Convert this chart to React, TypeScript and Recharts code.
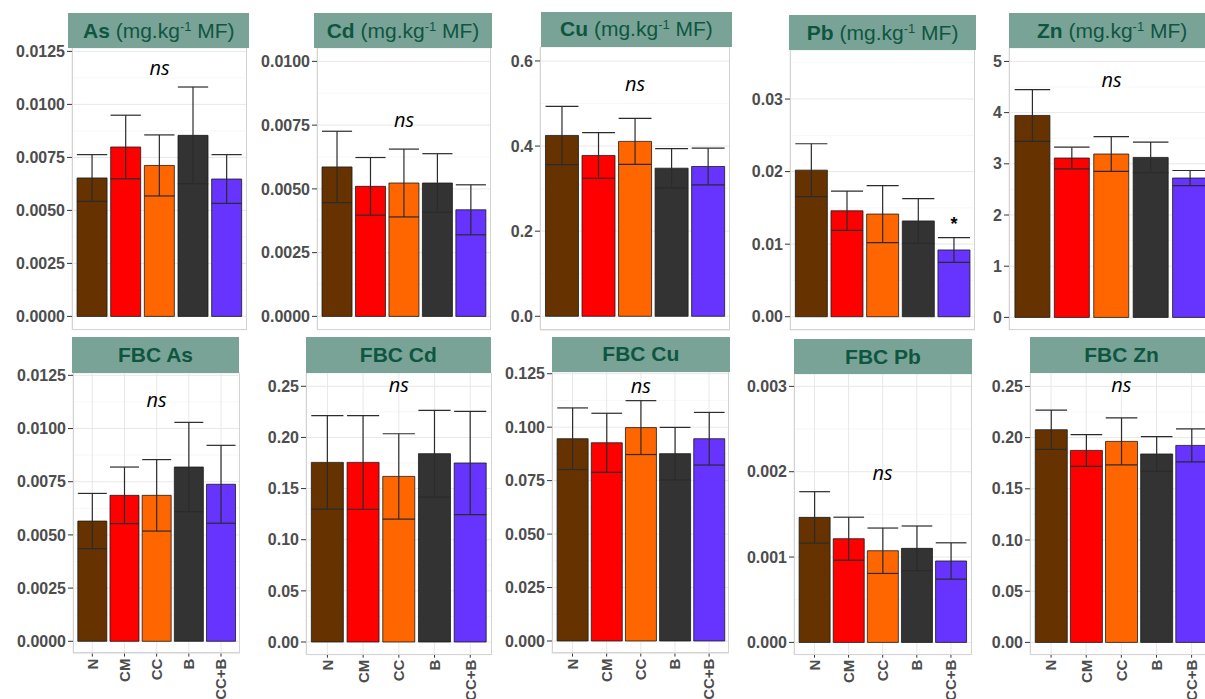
import React from 'react';
import { BarChart, Bar, XAxis, YAxis, CartesianGrid, ErrorBar, Cell, ReferenceDot } from 'recharts';

// ---------- data ----------
const categories = ['N', 'CM', 'CC', 'B', 'CC+B'];
const barColors = ['#663300', '#ff0000', '#ff6600', '#333333', '#6633ff'];

const asMean = [0.00653, 0.00799, 0.00712, 0.00854, 0.00648];
const asSe = [0.0011, 0.0015, 0.00144, 0.00228, 0.00115];
const cdMean = [0.00586, 0.0051, 0.00523, 0.00523, 0.00418];
const cdSe = [0.0014, 0.00113, 0.00133, 0.00115, 0.00098];
const cuMean = [0.425, 0.378, 0.411, 0.348, 0.352];
const cuSe = [0.0685, 0.0536, 0.054, 0.0462, 0.043];
const pbMean = [0.0202, 0.0146, 0.01415, 0.0132, 0.0092];
const pbSe = [0.00364, 0.00271, 0.00393, 0.00308, 0.0017];
const znMean = [3.945, 3.113, 3.191, 3.125, 2.722];
const znSe = [0.505, 0.211, 0.339, 0.299, 0.147];

const fbcAsMean = [0.00565, 0.00686, 0.00686, 0.00819, 0.00738];
const fbcAsSe = [0.0013, 0.00133, 0.00168, 0.0021, 0.00183];
const fbcCdMean = [0.1756, 0.1756, 0.1619, 0.1841, 0.175];
const fbcCdSe = [0.0457, 0.0458, 0.0417, 0.0424, 0.0505];
const fbcCuMean = [0.0946, 0.0927, 0.0998, 0.0876, 0.0946];
const fbcCuSe = [0.0144, 0.0138, 0.0126, 0.0123, 0.0123];
const fbcPbMean = [0.001465, 0.001215, 0.001074, 0.001102, 0.000954];
const fbcPbSe = [0.000301, 0.000252, 0.000266, 0.000262, 0.000213];
const fbcZnMean = [0.2077, 0.1875, 0.1963, 0.184, 0.1924];
const fbcZnSe = [0.0192, 0.0155, 0.023, 0.0169, 0.0161];

// tick values
const ticksAs = [0, 0.0025, 0.005, 0.0075, 0.01, 0.0125];
const ticksCd = [0, 0.0025, 0.005, 0.0075, 0.01];
const ticksCu = [0, 0.2, 0.4, 0.6];
const ticksPb = [0, 0.01, 0.02, 0.03];
const ticksZn = [0, 1, 2, 3, 4, 5];
const ticksFbcAs = [0, 0.0025, 0.005, 0.0075, 0.01, 0.0125];
const ticksFbcCd = [0, 0.05, 0.1, 0.15, 0.2, 0.25];
const ticksFbcCu = [0, 0.025, 0.05, 0.075, 0.1, 0.125];
const ticksFbcPb = [0, 0.001, 0.002, 0.003];
const ticksFbcZn = [0, 0.05, 0.1, 0.15, 0.2, 0.25];

// ---------- layout / panel config ----------
const YW = 70;
const MT = 14;
const FONT = '"Liberation Sans", Arial, sans-serif';

type Box = { l: number; t: number; r: number; b: number };
type PanelCfg = {
  bold: string;
  unit: boolean;
  mean: number[];
  se: number[];
  ticks: number[];
  dec: number;
  domain: [number, number];
  box: Box;
  strip: Box;
  note?: { text: string; cat: string; y: number; star?: boolean };
  xLabels: boolean;
};

const panels: PanelCfg[] = [
  { bold: 'As', unit: true, mean: asMean, se: asSe, ticks: ticksAs, dec: 4, domain: [-0.000627, 0.01266],
    box: { l: 71.7, t: 48.3, r: 246.7, b: 330 }, strip: { l: 68.3, t: 13.3, r: 249.3, b: 48.3 },
    note: { text: 'ns', cat: 'CC', y: 0.01164 }, xLabels: false },
  { bold: 'Cd', unit: true, mean: cdMean, se: cdSe, ticks: ticksCd, dec: 4, domain: [-0.000522, 0.010525],
    box: { l: 316.7, t: 48.3, r: 490.7, b: 330 }, strip: { l: 314.3, t: 13.3, r: 491.7, b: 48.3 },
    note: { text: 'ns', cat: 'CC', y: 0.00765 }, xLabels: false },
  { bold: 'Cu', unit: true, mean: cuMean, se: cuSe, ticks: ticksCu, dec: 1, domain: [-0.0329, 0.6328],
    box: { l: 540, t: 46.7, r: 730, b: 330 }, strip: { l: 540.7, t: 11.7, r: 732.3, b: 46.7 },
    note: { text: 'ns', cat: 'CC', y: 0.5428 }, xLabels: false },
  { bold: 'Pb', unit: true, mean: pbMean, se: pbSe, ticks: ticksPb, dec: 2, domain: [-0.00183, 0.03676],
    box: { l: 789.6, t: 50, r: 975, b: 330 }, strip: { l: 789.3, t: 15, r: 976, b: 50 },
    note: { text: '*', cat: 'CC+B', y: 0.01333, star: true }, xLabels: false },
  { bold: 'Zn', unit: true, mean: znMean, se: znSe, ticks: ticksZn, dec: 0, domain: [-0.24, 5.262],
    box: { l: 1008.7, t: 48.3, r: 1213.7, b: 330 }, strip: { l: 1009.3, t: 13.3, r: 1215, b: 48.3 },
    note: { text: 'ns', cat: 'CC', y: 4.61 }, xLabels: false },

  { bold: 'FBC As', unit: false, mean: fbcAsMean, se: fbcAsSe, ticks: ticksFbcAs, dec: 4, domain: [-0.000578, 0.01261],
    box: { l: 72.7, t: 372.7, r: 240, b: 653.3 }, strip: { l: 71.7, t: 337.3, r: 239.3, b: 372.7 },
    note: { text: 'ns', cat: 'CC', y: 0.01125 }, xLabels: true },
  { bold: 'FBC Cd', unit: false, mean: fbcCdMean, se: fbcCdSe, ticks: ticksFbcCd, dec: 2, domain: [-0.01242, 0.263],
    box: { l: 306, t: 373.3, r: 491.7, b: 655 }, strip: { l: 306, t: 337.3, r: 490.7, b: 373.3 },
    note: { text: 'ns', cat: 'CC', y: 0.2493 }, xLabels: true },
  { bold: 'FBC Cu', unit: false, mean: fbcCuMean, se: fbcCuSe, ticks: ticksFbcCu, dec: 3, domain: [-0.00589, 0.1258],
    box: { l: 551.7, t: 371.7, r: 729.3, b: 653.3 }, strip: { l: 551.7, t: 336.7, r: 730, b: 371.7 },
    note: { text: 'ns', cat: 'CC', y: 0.1185 }, xLabels: true },
  { bold: 'FBC Pb', unit: false, mean: fbcPbMean, se: fbcPbSe, ticks: ticksFbcPb, dec: 3, domain: [-0.000144, 0.003145],
    box: { l: 794.3, t: 374.3, r: 971.7, b: 655 }, strip: { l: 794.3, t: 339.3, r: 971.7, b: 374.3 },
    note: { text: 'ns', cat: 'CC', y: 0.001965 }, xLabels: true },
  { bold: 'FBC Zn', unit: false, mean: fbcZnMean, se: fbcZnSe, ticks: ticksFbcZn, dec: 2, domain: [-0.012, 0.2631],
    box: { l: 1030, t: 373.3, r: 1212.7, b: 655 }, strip: { l: 1030, t: 337.3, r: 1213, b: 373.3 },
    note: { text: 'ns', cat: 'CC', y: 0.2494 }, xLabels: true },
];

function minorOf(ticks: number[], domain: [number, number]) {
  const step = ticks[1] - ticks[0];
  const out: number[] = [];
  for (let i = 0; i < ticks.length; i++) {
    const v = ticks[i] + step / 2;
    if (v <= domain[1]) out.push(v);
  }
  return out;
}

const RotTick = (props: any) => {
  const { x, y, payload } = props;
  return (
    <text
      x={x}
      y={y}
      transform={`rotate(-90, ${x}, ${y})`}
      textAnchor="end"
      dy="0.36em"
      fill="#4d4d4d"
      fontSize={15}
      fontWeight="bold"
      fontFamily={FONT}
    >
      {payload.value}
    </text>
  );
};

function Panel({ cfg }: { cfg: PanelCfg }) {
  const { box, strip } = cfg;
  const plotW = box.r - box.l;
  const plotH = box.b - box.t;
  const u = plotW / 5.2;
  const XH = cfg.xLabels ? 50 : 6;
  const data = categories.map((c, i) => ({ cat: c, mean: cfg.mean[i], se: cfg.se[i] }));
  const minor = minorOf(cfg.ticks, cfg.domain);
  const note = cfg.note;

  return (
    <>
      <div style={{ position: 'absolute', left: box.l - YW, top: box.t - MT }}>
        <BarChart
          width={YW + plotW}
          height={plotH + XH + MT}
          data={data}
          margin={{ top: MT, right: 0, bottom: 0, left: 0 }}
          barCategoryGap="5%"
        >
          <CartesianGrid vertical={false} horizontalValues={minor} stroke="#f3f3f3" strokeWidth={0.7} />
          <CartesianGrid stroke="#e8e8e8" strokeWidth={1} />
          <XAxis
            dataKey="cat"
            type="category"
            height={XH}
            padding={{ left: u * 0.1, right: u * 0.1 }}
            axisLine={false}
            tickLine={{ stroke: '#333333' }}
            tickSize={3}
            tickMargin={2}
            interval={0}
            tick={cfg.xLabels ? <RotTick /> : false}
          />
          <YAxis
            type="number"
            width={YW}
            domain={cfg.domain}
            allowDataOverflow
            ticks={cfg.ticks}
            interval={0}
            axisLine={false}
            tickLine={{ stroke: '#333333' }}
            tickSize={5}
            tickMargin={2}
            tickFormatter={(v: number) => v.toFixed(cfg.dec)}
            tick={{ fill: '#4d4d4d', fontSize: 16, fontWeight: 'bold', fontFamily: FONT }}
          />
          <Bar dataKey="mean" isAnimationActive={false} stroke="#1a1a1a" strokeWidth={0.8}>
            {data.map((d, i) => (
              <Cell key={d.cat} fill={barColors[i]} />
            ))}
            <ErrorBar dataKey="se" direction="y" width={u * 0.45} stroke="#2b2b2b" strokeWidth={1.2} isAnimationActive={false} />
          </Bar>
          {note && (
            <ReferenceDot
              x={note.cat}
              y={note.y}
              r={0}
              ifOverflow="visible"
              shape={(p: any) =>
                note.star ? (
                  <text x={p.cx} y={p.cy} dy="0.58em" textAnchor="middle" fontSize={18} fontWeight="bold" fontFamily={FONT} fill="#000">
                    {note.text}
                  </text>
                ) : (
                  <text x={p.cx} y={p.cy} dy="0.27em" textAnchor="middle" fontSize={20} fontStyle="italic" fontFamily='"Open Sans", "Noto Sans", sans-serif' fill="#000">
                    {note.text}
                  </text>
                )
              }
            />
          )}
        </BarChart>
      </div>
      <div
        style={{
          position: 'absolute',
          left: box.l,
          top: box.t,
          width: plotW,
          height: plotH,
          border: '1px solid #d4d4d4',
          borderTop: 'none',
          boxSizing: 'border-box',
          pointerEvents: 'none',
        }}
      />
      <div
        style={{
          position: 'absolute',
          left: strip.l,
          top: strip.t,
          width: strip.r - strip.l,
          height: strip.b - strip.t,
          background: '#7aa397',
          color: '#0f5641',
          fontFamily: FONT,
          fontSize: 21,
          display: 'flex',
          alignItems: 'center',
          justifyContent: 'center',
          whiteSpace: 'nowrap',
        }}
      >
        <span style={{ fontWeight: 'bold' }}>{cfg.bold}</span>
        {cfg.unit && (
          <span>
            &nbsp;(mg.kg<span style={{ fontSize: 13, position: 'relative', top: -7 }}>-1</span> MF)
          </span>
        )}
      </div>
    </>
  );
}

export default function App() {
  return (
    <div
      style={{
        position: 'absolute',
        left: 0,
        top: 0,
        width: 1205,
        height: 699,
        overflow: 'hidden',
        background: '#ffffff',
      }}
    >
      {panels.map((p) => (
        <Panel key={p.bold} cfg={p} />
      ))}
    </div>
  );
}
